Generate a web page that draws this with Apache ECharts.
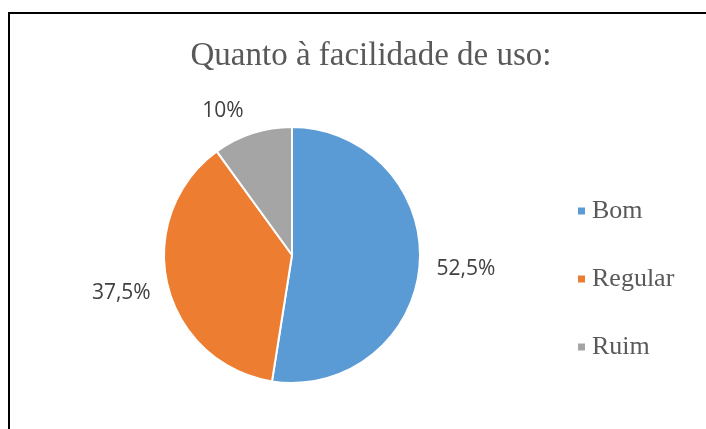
<!DOCTYPE html>
<html><head><meta charset="utf-8">
<script src="https://cdn.jsdelivr.net/npm/echarts@6/dist/echarts.min.js"></script>
<style>html,body{margin:0;padding:0;background:#fff}#c{width:706px;height:429px}</style>
</head><body><div id="c"></div>
<script>
const categories = ['Bom', 'Regular', 'Ruim'];
const values = [52.5, 37.5, 10];
const colors = ['#5B9BD5', '#ED7D31', '#A5A5A5'];
const titleText = 'Quanto à facilidade de uso:';

const labelOffsets = { Bom: [0, 4], Regular: [0, 7], Ruim: [4, -17] };

const chart = echarts.init(document.getElementById('c'));
chart.setOption({
  animation: false,
  color: colors,
  title: {
    text: titleText, left: 366, top: 35, textAlign: 'center',
    textStyle: { fontFamily: 'Liberation Serif', fontSize: 33, fontWeight: 'normal', color: '#595959' }
  },
  graphic: [{
    type: 'rect', shape: { x: 9, y: 13, width: 720, height: 440 },
    style: { fill: 'none', stroke: '#000', lineWidth: 2 }, silent: true
  }],
  legend: {
    orient: 'vertical', left: 571, top: 193, itemGap: 42,
    itemWidth: 9, itemHeight: 9, icon: 'rect',
    textStyle: { fontFamily: 'Liberation Serif', fontSize: 26, lineHeight: 26, color: '#595959', padding: [0,0,0,1] },
    data: categories
  },
  series: [{
    type: 'pie', center: [292, 255], radius: 128, startAngle: 90, clockwise: true,
    itemStyle: { borderColor: '#fff', borderWidth: 2 },
    label: {
      show: true, position: 'outside',
      formatter: p => String(p.value).replace('.', ',') + '%',
      fontFamily: 'Open Sans', fontSize: 21, color: '#404040'
    },
    labelLine: { show: false, length: 6, length2: 6 },
    data: categories.map((c, i) => ({ name: c, value: values[i], label: { offset: labelOffsets[c] } }))
  }]
});
</script></body></html>
